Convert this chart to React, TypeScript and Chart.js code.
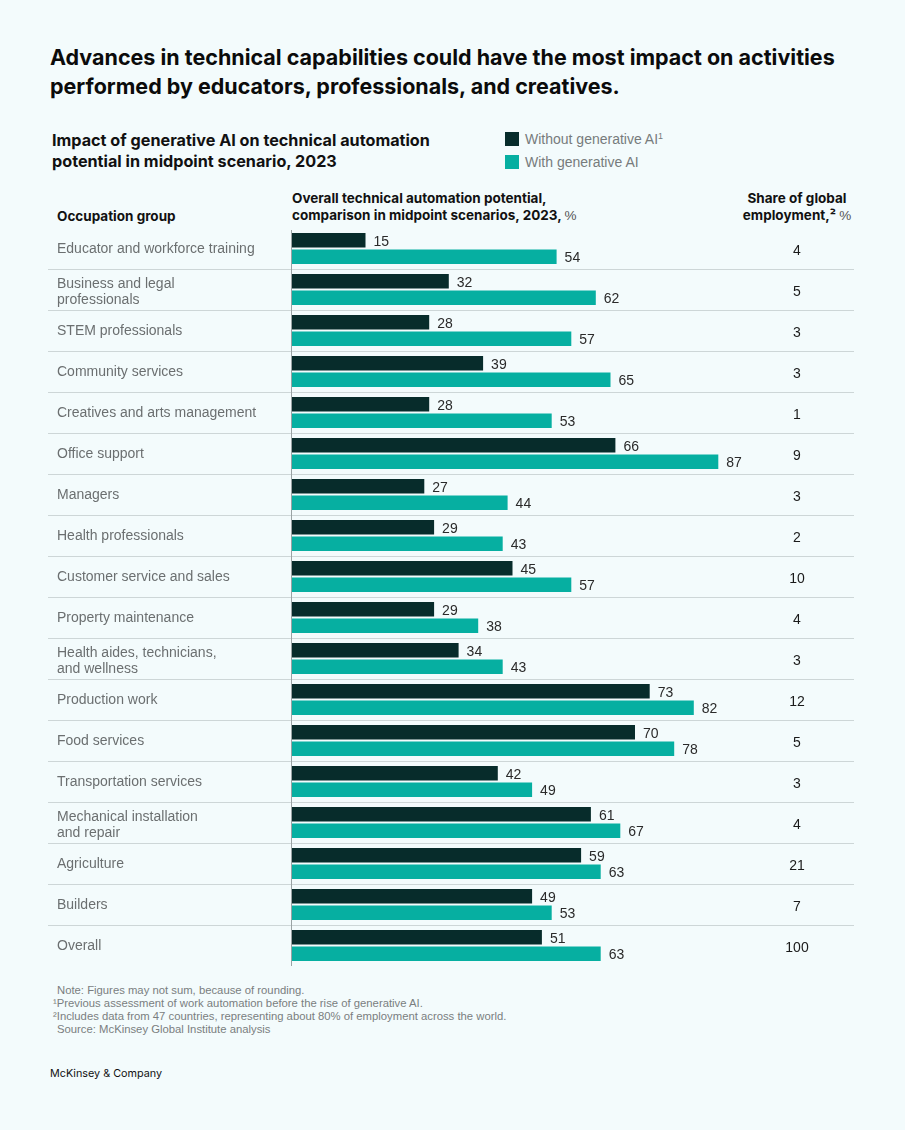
import React, { useEffect, useRef } from "react";
import { Chart, registerables } from "chart.js";

Chart.register(...registerables);

const categories: string[][] = [
  ["Educator and workforce training"],
  ["Business and legal", "professionals"],
  ["STEM professionals"],
  ["Community services"],
  ["Creatives and arts management"],
  ["Office support"],
  ["Managers"],
  ["Health professionals"],
  ["Customer service and sales"],
  ["Property maintenance"],
  ["Health aides, technicians,", "and wellness"],
  ["Production work"],
  ["Food services"],
  ["Transportation services"],
  ["Mechanical installation", "and repair"],
  ["Agriculture"],
  ["Builders"],
  ["Overall"],
];

const withoutGenAI: number[] = [15, 32, 28, 39, 28, 66, 27, 29, 45, 29, 34, 73, 70, 42, 61, 59, 49, 51];
const withGenAI: number[] = [54, 62, 57, 65, 53, 87, 44, 43, 57, 38, 43, 82, 78, 49, 67, 63, 53, 63];
const shareOfEmployment: string[] = ["4", "5", "3", "3", "1", "9", "3", "2", "10", "4", "3", "12", "5", "3", "4", "21", "7", "100"];

const seriesNames = ["Without generative AI", "With generative AI"];

const DARK = "#072c2b";
const TEAL = "#06afa1";
const BG = "#f3fbfc";
const BOLD_FONT = "Inter, 'Noto Sans', sans-serif";
const REG_FONT = "'Liberation Sans', Arial, sans-serif";

const tablePlugin = {
  id: "tablePlugin",
  afterDatasetsDraw(chart: any) {
    const ctx = chart.ctx as CanvasRenderingContext2D;
    const y = chart.scales.y;
    const area = chart.chartArea;
    const n = categories.length;
    const step = (area.bottom - area.top) / n;
    ctx.save();
    // separators
    ctx.strokeStyle = "#cdd6d7";
    ctx.lineWidth = 1;
    for (let i = 0; i < n - 1; i++) {
      const yy = Math.round(y.getPixelForValue(i) + step / 2) + 0.5;
      ctx.beginPath();
      ctx.moveTo(48, yy);
      ctx.lineTo(854, yy);
      ctx.stroke();
    }
    // axis line
    ctx.strokeStyle = "#9aa3a4";
    ctx.beginPath();
    ctx.moveTo(Math.round(area.left) - 0.5, area.top + 2);
    ctx.lineTo(Math.round(area.left) - 0.5, area.bottom);
    ctx.stroke();

    // category labels
    ctx.font = `14px ${REG_FONT}`;
    ctx.fillStyle = "#6b6f70";
    ctx.textAlign = "left";
    ctx.textBaseline = "middle";
    categories.forEach((lines, i) => {
      const cy = y.getPixelForValue(i) + (lines.length > 1 ? 2.5 : 1);
      const lh = 16.5;
      const start = cy - ((lines.length - 1) * lh) / 2;
      lines.forEach((ln, j) => ctx.fillText(ln, 57, start + j * lh));
    });

    // share values
    ctx.fillStyle = "#1a1a1a";
    ctx.textAlign = "center";
    shareOfEmployment.forEach((v, i) => {
      ctx.fillText(v, 797, y.getPixelForValue(i) + 3);
    });

    // value labels
    ctx.fillStyle = "#2a2a2a";
    ctx.textAlign = "left";
    chart.data.datasets.forEach((ds: any, di: number) => {
      const meta = chart.getDatasetMeta(di);
      meta.data.forEach((bar: any, i: number) => {
        ctx.fillText(String(ds.data[i]), bar.x + 8, bar.y + 1.5);
      });
    });
    ctx.restore();
  },
};

function ChartBlock() {
  const ref = useRef<HTMLCanvasElement>(null);
  useEffect(() => {
    if (!ref.current) return;
    const chart = new Chart(ref.current, {
      type: "bar",
      data: {
        labels: categories.map((c) => c.join(" ")),
        datasets: [
          {
            label: seriesNames[0],
            data: withoutGenAI,
            backgroundColor: DARK,
            categoryPercentage: 0.805,
            barPercentage: 0.88,
          },
          {
            label: seriesNames[1],
            data: withGenAI,
            backgroundColor: TEAL,
            categoryPercentage: 0.805,
            barPercentage: 0.88,
          },
        ],
      },
      options: {
        indexAxis: "y",
        animation: false,
        responsive: false,
        maintainAspectRatio: false,
        layout: { padding: { left: 292, right: 123, top: 0, bottom: 0 } },
        plugins: {
          legend: { display: false },
          tooltip: { enabled: false },
        },
        scales: {
          x: { display: false, min: 0, max: 100, grid: { display: false } },
          y: { display: false, grid: { display: false } },
        },
      },
      plugins: [tablePlugin],
    });
    return () => chart.destroy();
  }, []);
  return (
    <canvas
      ref={ref}
      width={905}
      height={738}
      style={{ position: "absolute", left: 0, top: 228, width: 905, height: 738 }}
    />
  );
}

const abs = (left: number, top: number, extra: React.CSSProperties = {}): React.CSSProperties => ({
  position: "absolute",
  left,
  top,
  margin: 0,
  whiteSpace: "nowrap",
  ...extra,
});

export default function App() {
  useEffect(() => {
    document.body.style.margin = "0";
    document.body.style.background = BG;
  }, []);
  return (
    <div
      style={{
        position: "absolute",
        left: 0,
        top: 0,
        width: 905,
        height: 1130,
        background: BG,
        fontFamily: BOLD_FONT,
        color: "#111",
        overflow: "hidden",
      }}
    >
      <div style={abs(50, 43, { fontSize: 21.5, fontWeight: 700, lineHeight: "29px", color: "#0b0b0b" })}>
        Advances in technical capabilities could have the most impact on activities
        <br />
        performed by educators, professionals, and creatives.
      </div>

      <div style={abs(52, 130, { fontSize: 16.2, fontWeight: 700, lineHeight: "20.5px", color: "#111" })}>
        Impact of generative AI on technical automation
        <br />
        potential in midpoint scenario, 2023
      </div>

      <div style={abs(505, 132, { width: 14, height: 14, background: DARK })} />
      <div style={abs(525, 130, { fontFamily: REG_FONT, fontSize: 14, color: "#777b7c", lineHeight: "18px" })}>
        {seriesNames[0]}
        <sup style={{ fontSize: 9, verticalAlign: "top", lineHeight: "12px" }}>1</sup>
      </div>
      <div style={abs(505, 155, { width: 14, height: 14, background: TEAL })} />
      <div style={abs(525, 153, { fontFamily: REG_FONT, fontSize: 14, color: "#777b7c", lineHeight: "18px" })}>
        {seriesNames[1]}
      </div>

      <div style={abs(57, 207, { fontSize: 13.5, fontWeight: 700, lineHeight: "18px" })}>Occupation group</div>
      <div style={abs(292, 190, { fontSize: 13.5, fontWeight: 700, lineHeight: "17px" })}>
        Overall technical automation potential,
        <br />
        comparison in midpoint scenarios, 2023,{" "}
        <span style={{ fontWeight: 400, fontFamily: REG_FONT, color: "#555" }}>%</span>
      </div>
      <div
        style={abs(737, 190, {
          width: 120,
          textAlign: "center",
          fontSize: 13.5,
          fontWeight: 700,
          lineHeight: "17px",
        })}
      >
        Share of global
        <br />
        employment,² <span style={{ fontWeight: 400, fontFamily: REG_FONT, color: "#555" }}>%</span>
      </div>

      <ChartBlock />

      <div style={abs(53, 984, { fontFamily: REG_FONT, fontSize: 11.3, color: "#7a7e7f", lineHeight: "13px" })}>
        <div style={{ paddingLeft: 4 }}>Note: Figures may not sum, because of rounding.</div>
        <div>¹Previous assessment of work automation before the rise of generative AI.</div>
        <div>²Includes data from 47 countries, representing about 80% of employment across the world.</div>
        <div style={{ paddingLeft: 4 }}>Source: McKinsey Global Institute analysis</div>
      </div>

      <div style={abs(50, 1066, { fontSize: 10.8, color: "#111", lineHeight: "15px" })}>McKinsey &amp; Company</div>
    </div>
  );
}
